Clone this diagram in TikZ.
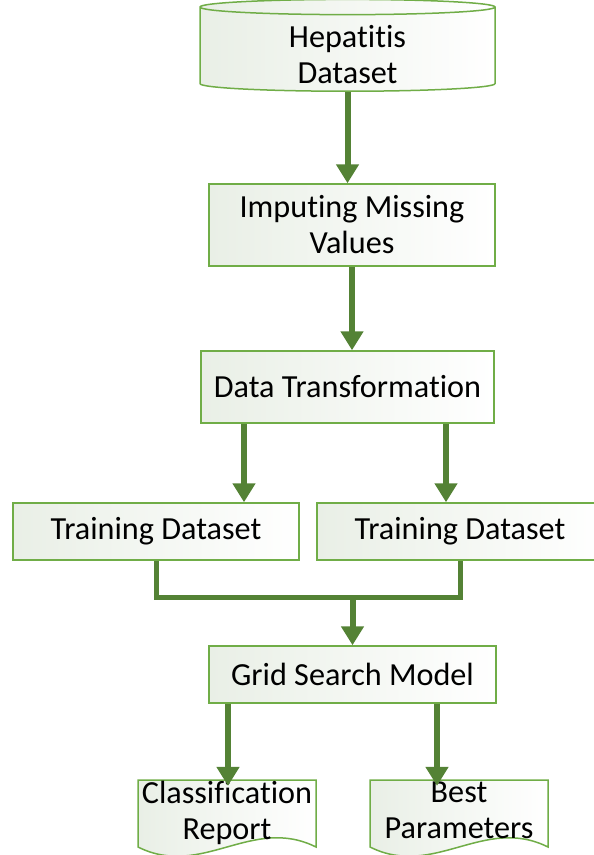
\documentclass[tikz,border=0pt]{standalone}
\usepackage{fontspec}
\setmainfont{Carlito}[Ligatures={NoCommon,NoContextual}]
\usetikzlibrary{arrows.meta,shapes.geometric}
\definecolor{edgegreen}{RGB}{112,173,71}
\definecolor{flowgreen}{RGB}{84,130,53}
\definecolor{shadegreen}{RGB}{233,239,230}

\begin{document}
\begin{tikzpicture}[x=1pt,y=-1pt,
		every node/.style={font=\fontsize{32.2}{36}\selectfont,align=center,inner sep=0pt},
		box/.style={draw=edgegreen,line width=1.5pt,left color=shadegreen,right color=white},
		doctext/.style={minimum width=178pt,minimum height=71pt,execute at begin node=\strut,execute at end node=\strut},
		flow/.style={draw=flowgreen,line width=6pt,-{Triangle[width=22pt,length=19pt]}},
		joinline/.style={draw=flowgreen,line width=5pt}]
	\useasboundingbox (0,0) rectangle (594,855);
	\node[box,cylinder,shape border rotate=90,aspect=0.13,minimum width=295pt,minimum height=91pt] (hep) at (347.5,49.5) {\rule{0pt}{32pt}Hepatitis\\Dataset};
	\node[box,minimum width=286pt,minimum height=82pt] (imp) at (352,225) {Imputing Missing\\Values};
	\node[box,minimum width=293pt,minimum height=72pt] (dt) at (347.5,387) {Data Transformation};
	\node[box,minimum width=286pt,minimum height=57pt] (trainA) at (156,531.5) {Training Dataset};
	\node[box,minimum width=286pt,minimum height=57pt] (trainB) at (460,531.5) {Training Dataset};
	\node[box,minimum width=287pt,minimum height=57pt] (grid) at (352.5,674.5) {Grid Search Model};
	\foreach \cx/\name/\txt in {227/report/{Classification\\Report},459/best/{Best\\Parameters}}{
		\draw[box] (\cx-89,780) -- (\cx+89,780) -- (\cx+89,847) .. controls (\cx+25,815) and (\cx-25,879) .. (\cx-89,847) -- cycle;
		\node[doctext] (\name) at (\cx,815.5) {\txt};
	}

	\draw[flow] (hep.south) -- (hep.south |- imp.north);
	\draw[flow] (imp.south) -- (imp.south |- dt.north);
	\foreach \dx in {-103.5,98.5}{ \draw[flow] ([xshift=\dx]dt.south) -- ([xshift=\dx]dt.south |- trainA.north); }
	\coordinate (merge) at (grid.north |- 0,597);
	\draw[joinline] (trainA.south) |- (merge) -| (trainB.south);
	\draw[flow] (merge) -- (grid.north);
	\foreach \dx/\out in {-124.5/report,84.5/best}{ \draw[flow,shorten >=-6pt] ([xshift=\dx]grid.south) -- ([xshift=\dx]grid.south |- \out.north); }
\end{tikzpicture}
\end{document}
